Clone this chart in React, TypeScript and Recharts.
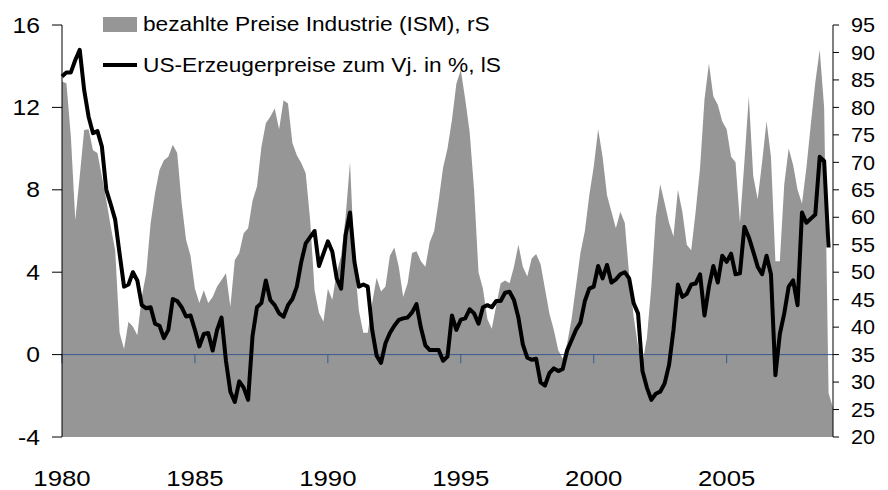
import React from 'react';
import { ComposedChart, Area, Line, XAxis, YAxis, ReferenceLine } from 'recharts';

// bimonthly readings, Jan 1980 onwards
const START_YEAR = 1980;
const STEPS_PER_YEAR = 6;

// ISM prices paid index, right scale
const ismPricesPaid: number[] = [
  84.7, 84.4, 74.7, 59.5, 67.4, 75.9,
  76, 72.2, 71.7, 67.4, 63.1, 58.3,
  54, 39, 36, 41, 40.1, 38.5,
  45.5, 49.8, 58.9, 64.4, 68.6, 70.4,
  71, 73.2, 71.7, 62.6, 55.9, 53,
  47, 44.4, 46.7, 44.4, 45.5, 47.4,
  48.6, 49.8, 43.7, 52.2, 53.5, 57.1,
  58, 63, 65.6, 72.8, 77.1, 78.3,
  79.8, 76, 81.3, 80.7, 73.5, 71.3,
  69.9, 68, 59.5, 46.7, 42.6, 41,
  47, 45, 50, 53, 60, 70,
  52, 43, 39, 39, 44.4, 49,
  46.5, 47.4, 53, 54.5, 51, 45.5,
  48, 53.5, 53.8, 52, 51, 55.5,
  57.5, 63, 69, 72.5, 77.7, 84.3,
  86.8, 81.5, 75.5, 65, 50, 47,
  41.5, 39.7, 44, 48, 48.5, 48,
  51, 55, 51, 49.2, 52.5, 53.3,
  51.5, 47, 42.5, 39.5, 35.8, 34.3,
  37, 41.5, 47.5, 53.5, 57.5, 64,
  69.2, 76, 71, 64, 61, 58,
  61, 59, 49.5, 42, 36.5, 33.5,
  38, 47.4, 60, 66, 62.6, 59,
  56.5, 65, 61, 55, 54, 61,
  69, 81.5, 88, 82, 80.5, 77.5,
  76, 71, 70, 59, 70, 82,
  67.5, 63.3, 70, 77.5, 71, 52,
  52, 66, 72.5, 69.5, 65, 62.5,
  69, 77, 84.5, 90.5, 80, 28,
  25.3,
];

// US producer prices, % yoy, left scale
const ppiYoY: number[] = [
  13.5, 13.7, 13.7, 14.3, 14.8, 12.85,
  11.55, 10.75, 10.85, 10.1, 8.0, 7.3,
  6.55, 4.9, 3.3, 3.4, 4.0, 3.6,
  2.4, 2.25, 2.3, 1.5, 1.4, 0.8,
  1.2, 2.7, 2.6, 2.3, 1.85, 1.9,
  1.2, 0.4, 1.0, 1.05, 0.2, 1.2,
  1.8, -0.3, -1.8, -2.3, -1.3, -1.6,
  -2.2, 0.9, 2.3, 2.5, 3.6, 2.65,
  2.4, 2.0, 1.84, 2.4, 2.7, 3.3,
  4.5, 5.4, 5.7, 6.0, 4.3, 4.9,
  5.5, 5.0, 3.7, 3.2, 5.8, 6.9,
  4.5, 3.3, 3.4, 3.3, 1.2, -0.05,
  -0.4, 0.55, 1.05, 1.4, 1.68, 1.76,
  1.8, 2.05, 2.45, 1.3, 0.45, 0.22,
  0.22, 0.22, -0.3, -0.1, 1.9, 1.2,
  1.7, 1.76, 2.2, 2.0, 1.5, 2.3,
  2.4, 2.3, 2.6, 2.6, 3.0, 3.05,
  2.65, 1.8, 0.5, -0.15, -0.25, -0.2,
  -1.35, -1.5, -0.9, -0.67, -0.8, -0.7,
  0.2, 0.7, 1.2, 1.55, 2.6, 3.2,
  3.3, 4.3, 3.7, 4.35, 3.5, 3.65,
  3.9, 4.0, 3.7, 2.5, 2.0, -0.8,
  -1.6, -2.2, -1.9, -1.8, -1.4, -0.5,
  1.2, 3.4, 2.8, 2.95, 3.4, 3.45,
  3.9, 1.9, 3.3, 4.3, 3.5, 4.8,
  4.5, 4.9, 3.9, 3.95, 6.2, 5.7,
  5.0, 4.27, 3.9, 4.8, 3.9, -1.0,
  1.0, 2.0, 3.3, 3.6, 2.4, 6.9,
  6.4, 6.6, 6.8, 9.6, 9.4, 5.2,
];

const yearTicks = [1980, 1985, 1990, 1995, 2000, 2005];
const leftTicks = [-4, 0, 4, 8, 12, 16];
const rightTicks = [20, 25, 30, 35, 40, 45, 50, 55, 60, 65, 70, 75, 80, 85, 90, 95];

const ISM_NAME = 'bezahlte Preise Industrie (ISM), rS';
const PPI_NAME = 'US-Erzeugerpreise zum Vj. in %, lS';

const data = ismPricesPaid.map((v, i) => ({
  t: START_YEAR + i / STEPS_PER_YEAR,
  ism: v,
  ppi: i < ppiYoY.length ? ppiYoY[i] : null,
}));

const FONT = "'Liberation Sans', Arial, sans-serif";
const GREY = '#969696';
const BLUE = '#3a5a8f';

const StretchTick = (props: any) => {
  const { x, y, payload, anchor, size, stretch } = props;
  return (
    <text
      transform={`translate(${x},${y}) scale(${stretch},1)`}
      textAnchor={anchor}
      dominantBaseline="central"
      fontSize={size}
      fontFamily={FONT}
      fill="#000"
    >
      {payload.value}
    </text>
  );
};

const legendText: React.CSSProperties = {
  fontFamily: FONT,
  fontSize: 21,
  lineHeight: '24px',
  whiteSpace: 'nowrap',
  transform: 'scaleX(1.08)',
  transformOrigin: 'left center',
  color: '#000',
};

export default function App() {
  return (
    <div style={{ position: 'absolute', left: 0, top: 0, width: 888, height: 490, background: '#fff' }}>
      <ComposedChart width={888} height={490} data={data} margin={{ top: 25, right: 0, bottom: 0, left: 0 }}>
        <XAxis
          dataKey="t"
          type="number"
          domain={[1980, 2009]}
          ticks={yearTicks}
          axisLine={false}
          tickLine={false}
          tickSize={0}
          tickMargin={41}
          height={53}
          tick={(p: any) => <StretchTick {...p} anchor="middle" size={23} stretch={1.12} />}
        />
        <YAxis
          yAxisId="left"
          domain={[-4, 16]}
          ticks={leftTicks}
          width={62}
          axisLine={{ stroke: '#000' }}
          tickLine={{ stroke: '#000' }}
          tickSize={10}
          tickMargin={12}
          tick={(p: any) => <StretchTick {...p} anchor="end" size={22} stretch={1.12} />}
        />
        <YAxis
          yAxisId="right"
          orientation="right"
          domain={[20, 95]}
          ticks={rightTicks}
          width={55}
          axisLine={{ stroke: '#000' }}
          tickLine={{ stroke: '#000' }}
          tickSize={6}
          tickMargin={12}
          tick={(p: any) => <StretchTick {...p} anchor="start" size={20} stretch={1.08} />}
        />
        <Area
          yAxisId="right"
          dataKey="ism"
          name={ISM_NAME}
          type="linear"
          fill={GREY}
          fillOpacity={1}
          stroke="none"
          dot={false}
          activeDot={false}
          isAnimationActive={false}
        />
        <ReferenceLine yAxisId="left" y={0} stroke={BLUE} strokeWidth={1} />
        {yearTicks.map((yr) => (
          <ReferenceLine
            key={yr}
            yAxisId="left"
            segment={[{ x: yr, y: 0 }, { x: yr, y: -0.42 }]}
            stroke={BLUE}
            strokeWidth={1}
          />
        ))}
        <Line
          yAxisId="left"
          dataKey="ppi"
          name={PPI_NAME}
          type="linear"
          stroke="#000"
          strokeWidth={4}
          strokeLinejoin="round"
          dot={false}
          activeDot={false}
          isAnimationActive={false}
        />
      </ComposedChart>
      <div style={{ position: 'absolute', left: 103, top: 12, height: 24, display: 'flex', alignItems: 'center' }}>
        <span style={{ display: 'inline-block', width: 34, height: 15, background: GREY, marginRight: 6 }} />
        <span style={legendText}>{ISM_NAME}</span>
      </div>
      <div style={{ position: 'absolute', left: 103, top: 53, height: 24, display: 'flex', alignItems: 'center' }}>
        <span style={{ display: 'inline-block', width: 34, height: 4, background: '#000', marginRight: 6 }} />
        <span style={legendText}>{PPI_NAME}</span>
      </div>
    </div>
  );
}
